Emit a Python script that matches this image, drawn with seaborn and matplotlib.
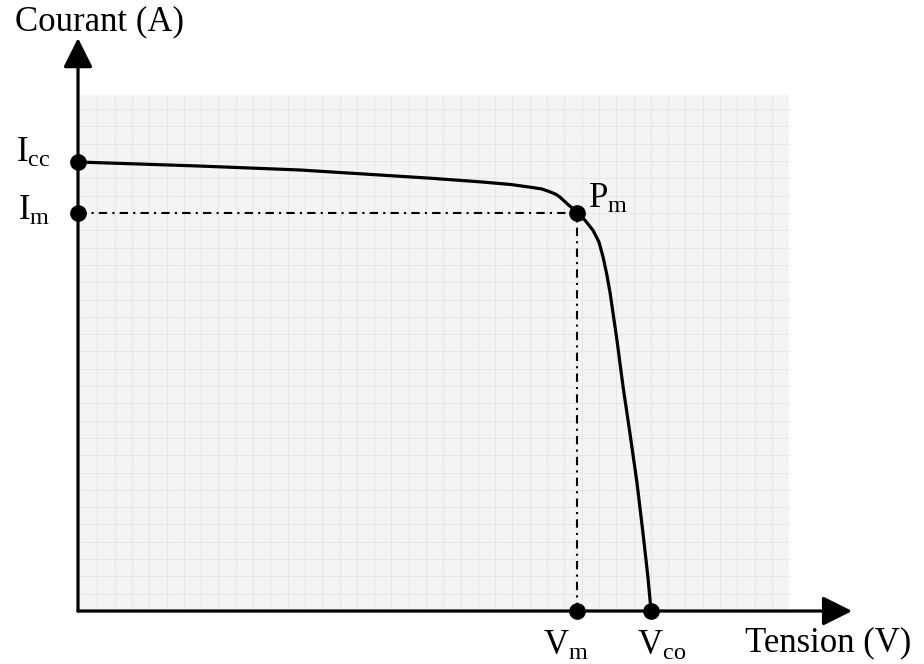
import numpy as np
import pandas as pd
import matplotlib
matplotlib.use("Agg")
import matplotlib.pyplot as plt
import seaborn as sns
from matplotlib.patches import Rectangle

# ---- data (arbitrary units) ----
tension = [0.0, 4.68, 8.52, 11.6, 13.5, 15.4, 16.6, 17.35, 17.8, 18.1, 18.35, 18.5,
           18.8, 19.0, 19.16, 19.47, 19.77, 20.0, 20.16, 20.3, 20.43, 20.69, 20.93,
           21.19, 21.46, 21.69, 21.88, 22.0]
courant = [5.0, 4.955, 4.911, 4.855, 4.82, 4.78, 4.75, 4.72, 4.70, 4.67, 4.64, 4.61,
           4.53, 4.48, 4.43, 4.35, 4.24, 4.11, 3.94, 3.75, 3.54, 3.02, 2.49,
           1.98, 1.43, 0.87, 0.38, 0.0]
Icc = 5.0
Im = 4.43
Vm = 19.16
Vco = 22.0

sns.set_theme(style="white")
plt.rcParams["font.family"] = ["Liberation Serif", "DejaVu Serif"]
plt.rcParams["mathtext.fontset"] = "custom"
plt.rcParams["mathtext.rm"] = "Liberation Serif"
plt.rcParams["mathtext.it"] = "Liberation Serif:italic"
plt.rcParams["text.color"] = "black"

fig = plt.figure(figsize=(9.24, 6.64), dpi=100)
ax = fig.add_axes([0, 0, 1, 1])
ax.set_xlim(-2.995, 32.48)
ax.set_ylim(-0.590, 6.804)
ax.axis("off")

# grey grid background
gx0, gx1 = 0.08, 27.3
gy0, gy1 = 0.0, 5.745
ax.add_patch(Rectangle((gx0, gy0), gx1 - gx0, gy1 - gy0, facecolor="#f4f4f4",
                       edgecolor="none", zorder=0))
sx, sy = 0.664, 0.1927
xs = np.arange(gx0 + sx, gx1, sx)
ys = np.arange(gy0 + sy, gy1, sy)
ax.vlines(xs, gy0, gy1, colors="#e6e6e6", lw=0.7, zorder=0.5)
ax.hlines(ys, gx0, gx1, colors="#e6e6e6", lw=0.7, zorder=0.5)
ax.vlines(xs - sx / 2, gy0, gy1, colors="white", lw=0.6, linestyles=(0, (1, 6)), zorder=0.6)
ax.hlines(ys - sy / 2, gx0, gx1, colors="white", lw=0.6, linestyles=(0, (1, 6)), zorder=0.6)

# axes arrows
ap = dict(arrowstyle="-|>", lw=2.3, color="black", shrinkA=0, shrinkB=0,
          mutation_scale=45)
ax.annotate("", xy=(29.72, 0), xytext=(0, 0), arrowprops=ap, zorder=3)
ax.annotate("", xy=(0, 6.38), xytext=(0, 0), arrowprops=ap, zorder=3)

# dash-dot guides
dd = (0, (4, 2.5, 1, 2.5))
ax.plot([0, Vm], [Im, Im], color="black", lw=1.5, linestyle=dd, zorder=2)
ax.plot([Vm, Vm], [0, Im], color="black", lw=1.5, linestyle=dd, zorder=2)

# I-V curve
df = pd.DataFrame({"V": tension, "I": courant})
sns.lineplot(data=df, x="V", y="I", ax=ax, color="black", lw=2.3, sort=False,
             zorder=4)

# markers
ax.plot([0, 0, Vm, Vm, Vco], [Icc, Im, Im, 0, 0], "o", color="black",
        markersize=11, zorder=5)

fs = 25
ax.text(-2.42, 6.56, "Courant (A)", fontsize=fs, ha="left", va="center")
ax.text(25.6, -0.356, "Tension (V)", fontsize=fs, ha="left", va="center")
ax.text(-1.07, 5.10, r"$\mathrm{I_{cc}}$", fontsize=fs, ha="right", va="center")
ax.text(-1.07, 4.45, r"$\mathrm{I_{m}}$", fontsize=fs, ha="right", va="center")
ax.text(19.58, 4.58, r"$\mathrm{P_{m}}$", fontsize=fs, ha="left", va="center")
ax.text(18.74, -0.39, r"$\mathrm{V_{m}}$", fontsize=fs, ha="center", va="center")
ax.text(22.42, -0.39, r"$\mathrm{V_{co}}$", fontsize=fs, ha="center", va="center")

fig.savefig("out.png", dpi=100)
